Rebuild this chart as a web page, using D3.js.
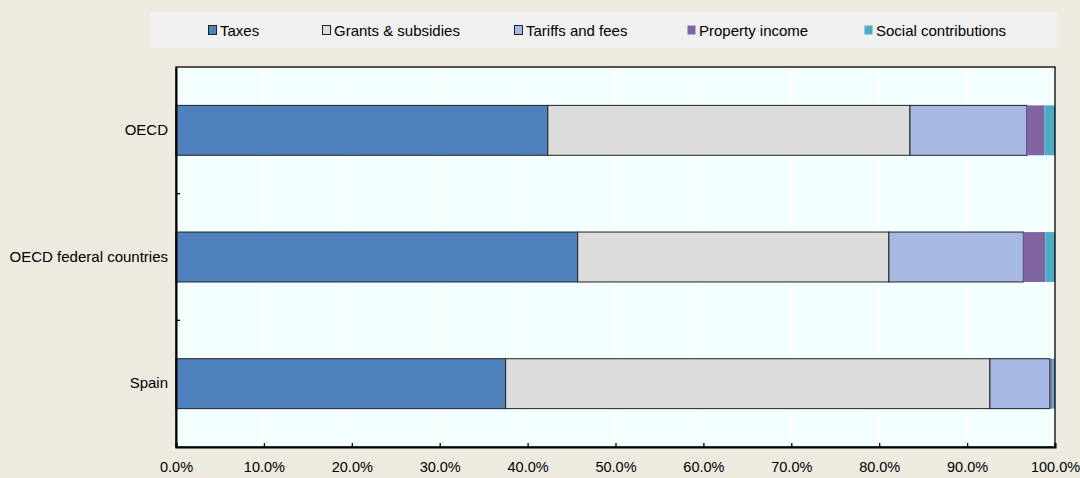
<!DOCTYPE html>
<html><head><meta charset="utf-8">
<script src="https://cdn.jsdelivr.net/npm/d3@7"></script>
<style>
html,body{margin:0;padding:0;background:#EDEAE0;}
text{font-family:"Liberation Sans",Arial,sans-serif;}
</style></head>
<body>
<svg id="chart" width="1080" height="478"></svg>
<script>
const categories = ["OECD", "OECD federal countries", "Spain"];
const seriesNames = ["Taxes", "Grants & subsidies", "Tariffs and fees", "Property income", "Social contributions"];
const taxes = [42.3, 45.7, 37.5];
const grants = [41.2, 35.4, 55.1];
const tariffs = [13.3, 15.3, 6.8];
const property = [2.0, 2.5, 0.3];
const social = [1.2, 1.1, 0.3];
const xTicks = [0,10,20,30,40,50,60,70,80,90,100];
const colors = ["#4F81BD", "#DCDCDC", "#A7B9E3", "#8064A2", "#4BACC6"];
const outlined = [true, true, true, false, false];

const seriesValues = [taxes, grants, tariffs, property, social];
const rows = categories.map((c,i)=>{
  const r = {cat:c};
  seriesNames.forEach((s,j)=> r[s] = seriesValues[j][i]);
  return r;
});

const svg = d3.select("#chart");
const m = {left:176, right:1055, top:67, bottom:447};

// legend box
svg.append("rect").attr("x",150).attr("y",12).attr("width",907).attr("height",36).attr("fill","#F0F0F0");
const legendX = [208, 322, 514, 687, 864];
seriesNames.forEach((s,j)=>{
  const g = svg.append("g").attr("transform",`translate(${legendX[j]},30)`);
  g.append("rect").attr("x",0.5).attr("y",-4.5).attr("width",8).attr("height",9)
    .attr("fill", colors[j]).attr("stroke", outlined[j] ? "#222" : "none").attr("stroke-width",1);
  g.append("text").attr("x",12).attr("y",5.5).attr("font-size",15).attr("fill","#000").text(s);
});

// plot background
svg.append("rect").attr("x",m.left).attr("y",m.top).attr("width",m.right-m.left).attr("height",m.bottom-m.top).attr("fill","#F4FFFF");

const x = d3.scaleLinear().domain([0,100]).range([m.left,m.right]);
const y = d3.scaleBand().domain(categories).range([m.top,m.bottom]).paddingInner(0.606).paddingOuter(0.303);

// gridlines
svg.append("g").selectAll("line").data(xTicks.slice(1,-1)).join("line")
  .attr("x1",d=>x(d)).attr("x2",d=>x(d)).attr("y1",m.top).attr("y2",m.bottom)
  .attr("stroke","#FFFFFF").attr("stroke-width",1.5);

const stack = d3.stack().keys(seriesNames)(rows);
svg.append("g").selectAll("g").data(stack).join("g")
  .attr("fill",(d,j)=>colors[j])
  .attr("stroke",(d,j)=> outlined[j] ? "#222" : "none")
  .attr("stroke-width",1)
  .selectAll("rect").data(d=>d).join("rect")
  .attr("x",d=>x(d[0])).attr("width",d=>x(d[1])-x(d[0]))
  .attr("y",d=>y(d.data.cat)).attr("height",y.bandwidth());

// axes frame
svg.append("rect").attr("x",m.left).attr("y",m.top).attr("width",m.right-m.left).attr("height",m.bottom-m.top)
  .attr("fill","none").attr("stroke","#000").attr("stroke-width",1.3);

// x axis
const xAxis = svg.append("g").attr("transform",`translate(0,${m.bottom})`)
  .call(d3.axisBottom(x).tickValues(xTicks).tickSize(-4).tickPadding(15).tickFormat(d=>d.toFixed(1)+"%"));
xAxis.select(".domain").attr("stroke","#000").attr("stroke-width",2);
xAxis.selectAll(".tick line").attr("stroke","#000").attr("stroke-width",1.3);
xAxis.selectAll("text").attr("font-size",14.5).attr("fill","#000").attr("font-family","Liberation Sans, Arial, sans-serif");

// y axis
const yAxis = svg.append("g").attr("transform",`translate(${m.left},0)`)
  .call(d3.axisLeft(y).tickSize(0).tickPadding(8));
yAxis.select(".domain").attr("stroke","#000").attr("stroke-width",2);
yAxis.selectAll("text").attr("font-size",15).attr("fill","#000").attr("font-family","Liberation Sans, Arial, sans-serif");
// separator ticks between categories
const step = y.step();
const seps = categories.slice(1).map(c=> y(c) - y.paddingInner()*step/2);
svg.append("g").selectAll("line").data(seps).join("line")
  .attr("x1",m.left).attr("x2",m.left+4).attr("y1",d=>d).attr("y2",d=>d)
  .attr("stroke","#000").attr("stroke-width",1.3);
</script>
</body></html>
